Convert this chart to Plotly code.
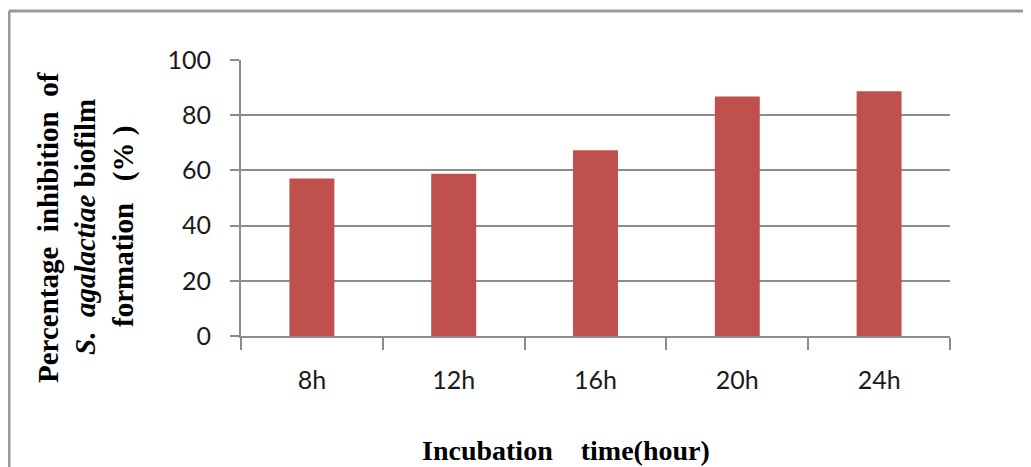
import plotly.graph_objects as go

# incubation time categories and % inhibition
times = ["8h", "12h", "16h", "20h", "24h"]
inhibition = [57.1, 58.8, 67.3, 86.8, 88.7]
y_ticks = [0, 20, 40, 60, 80, 100]

# the page body adds an 8px offset, so the figure is sized to the visible area
OFF = 8
W, H = 1031 - OFF, 467 - OFF
L, T = 241 - OFF, 60 - OFF
PW, PH = 709, 276
R, B = W - L - PW, H - T - PH


def px(x):
    # page pixel x -> paper
    return (x - OFF - L) / PW


def py(y):
    # page pixel y -> paper
    return (T + PH - (y - OFF)) / PH


GRID = "#8c8c8c"
SERIF = "Liberation Serif, Times New Roman, serif"

fig = go.Figure(
    go.Bar(
        x=times,
        y=inhibition,
        marker=dict(color="#C0504D", line=dict(width=0)),
        hoverinfo="skip",
    )
)

fig.update_layout(
    width=W,
    height=H,
    margin=dict(l=L, r=R, t=T, b=B),
    paper_bgcolor="white",
    plot_bgcolor="white",
    bargap=0.683,
    showlegend=False,
    font=dict(family="Lato, Noto Sans, sans-serif", size=25, color="#1a1a1a"),
)

fig.update_xaxes(
    type="category",
    showline=True,
    linecolor=GRID,
    linewidth=2,
    ticks="outside",
    tickson="boundaries",
    ticklen=12,
    tickwidth=2,
    tickcolor=GRID,
    showgrid=False,
    ticklabelstandoff=21,
)
fig.update_yaxes(
    range=[0, 100],
    tickvals=y_ticks,
    showline=True,
    linecolor=GRID,
    linewidth=2,
    ticks="outside",
    ticklen=9,
    tickwidth=2,
    tickcolor=GRID,
    showgrid=True,
    gridcolor=GRID,
    gridwidth=2,
    zeroline=False,
    ticklabelstandoff=14,
)

# frame around the chart
fig.add_shape(type="line", xref="paper", yref="paper",
              x0=px(9), x1=px(1040), y0=py(11), y1=py(11),
              line=dict(color="#9a9a9a", width=3))
fig.add_shape(type="line", xref="paper", yref="paper",
              x0=px(9), x1=px(9), y0=py(11), y1=py(480),
              line=dict(color="#9a9a9a", width=3))

# y title, three rotated lines
y_lines = [
    ("Percentage\u00a0 inhibition\u00a0 of", 48),
    ("<i>S.\u00a0 agalactiae</i>\u00a0biofilm", 85),
    ("formation\u00a0\u00a0 (%\u00a0)", 123),
]
for text, xc in y_lines:
    fig.add_annotation(
        text=f"<b>{text}</b>", xref="paper", yref="paper",
        x=px(xc), y=py(227), xanchor="center", yanchor="middle",
        textangle=-90, showarrow=False,
        font=dict(family=SERIF, size=29, color="black"),
    )

fig.add_annotation(
    text="<b>Incubation\u00a0\u00a0\u00a0\u00a0time(hour)</b>", xref="paper", yref="paper",
    x=px(566), y=py(450), xanchor="center", yanchor="middle",
    showarrow=False,
    font=dict(family=SERIF, size=28, color="black"),
)

fig.write_html("out.html")
